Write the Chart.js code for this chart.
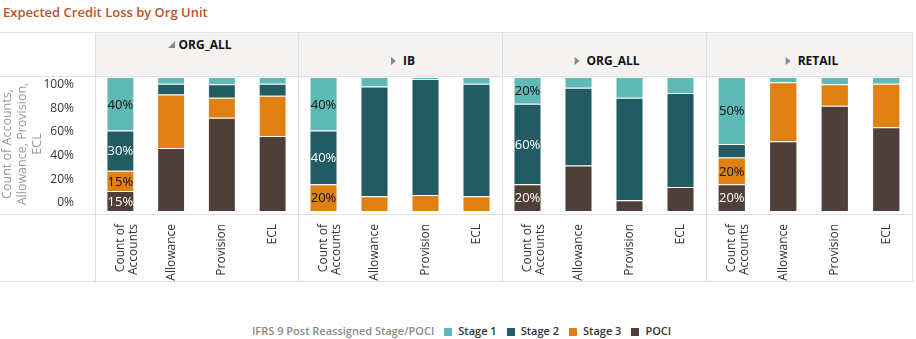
<!DOCTYPE html>
<html lang="en">
<head>
<meta charset="utf-8">
<script src="https://cdn.jsdelivr.net/npm/chart.js@4.4.1/dist/chart.umd.min.js"></script>
<style>
  html, body { margin: 0; padding: 0; background: #fff; }
  body { width: 916px; height: 339px; position: relative; overflow: hidden; font-family: "Open Sans", sans-serif; }
  .title { position: absolute; left: 3px; top: 3px; font-size: 13px; font-weight: 600; color: #b5552b; white-space: nowrap; }
  .hdr { position: absolute; top: 33px; height: 43px; left: 95px; width: 817px; background: #f4f3f2; }
  .hline { position: absolute; left: 0; width: 913px; height: 1px; background: #e0e0e0; }
  .vline { position: absolute; top: 32px; height: 250px; width: 1px; background: #e0e0e0; }
  .hdrtxt { position: absolute; font-size: 12px; font-weight: 700; color: #111; white-space: nowrap; transform: translate(-50%, -50%); line-height: 14px; }
  .tri-open { display: inline-block; width: 0; height: 0; border-left: 7px solid transparent; border-bottom: 7px solid #888; margin-right: 4px; vertical-align: 1px; }
  .tri-closed { display: inline-block; width: 0; height: 0; border-top: 4.5px solid transparent; border-bottom: 4.5px solid transparent; border-left: 5px solid #888; margin-right: 7px; vertical-align: 0px; }
  canvas { position: absolute; top: 77px; }
  .legend { position: absolute; left: 252px; top: 324px; font-size: 11px; font-weight: 600; line-height: 14px; white-space: nowrap; }
  .legend .lgtitle { color: #8a8a8a; margin-right: 10px; }
  .legend .item { color: #333; margin-right: 10px; }
  .legend .sw { display: inline-block; width: 8px; height: 8px; margin-right: 6px; vertical-align: -0.5px; }
</style>
</head>
<body>
<div class="title">Expected Credit Loss by Org Unit</div>
<div class="hdr"></div>
<div class="hline" style="top:32px"></div>
<div class="hline" style="top:76px"></div>
<div class="hline" style="top:214px"></div>
<div class="hline" style="top:281px"></div>
<div class="vline" style="left:95px"></div>
<div class="vline" style="left:298px"></div>
<div class="vline" style="left:502px"></div>
<div class="vline" style="left:706px"></div>
<div class="vline" style="left:912px"></div>

<canvas id="panel0" width="298" height="204" style="left:0px"></canvas>
<canvas id="panel1" width="204" height="204" style="left:298px"></canvas>
<canvas id="panel2" width="204" height="204" style="left:502px"></canvas>
<canvas id="panel3" width="206" height="204" style="left:706px"></canvas>

<div class="legend" id="legend"><span class="lgtitle">IFRS 9 Post Reassigned Stage/POCI</span></div>

<script>
// org units (one panel each) and the measures inside each panel
const orgUnits = ['ORG_ALL', 'IB', 'ORG_ALL', 'RETAIL'];
const orgExpanded = [true, false, false, false];
const measures = [['Count of', 'Accounts'], 'Allowance', 'Provision', 'ECL'];
const yTicks = [0, 20, 40, 60, 80, 100];

const stageNames = ['Stage 1', 'Stage 2', 'Stage 3', 'POCI'];
const stageColors = ['#5fb9b4', '#235b63', '#e07f12', '#4e4038'];
const labelColors = ['#111', '#fff', '#111', '#fff'];

// share (%) per org unit -> [Count of Accounts, Allowance, Provision, ECL]
const stage1 = [[40, 5, 5.5, 5], [40, 7, 1.5, 5], [20, 8, 15.5, 12], [50, 4, 5.5, 5]];
const stage2 = [[30, 8, 10, 9], [40, 82, 86.5, 84], [60, 58, 76.5, 70], [10, 0, 0, 0]];
const stage3 = [[15, 40, 15, 30], [20, 11, 12, 11], [0, 0, 0, 0], [20, 44, 16, 32.5]];
const poci   = [[15, 47, 69.5, 56], [0, 0, 0, 0], [20, 34, 8, 18], [20, 52, 78.5, 62.5]];
const stageValues = [stage1, stage2, stage3, poci];

Chart.defaults.font.family = '"Open Sans", sans-serif';

// percentage labels inside the Count of Accounts bars
const segmentLabels = {
  id: 'segmentLabels',
  afterDatasetsDraw(chart) {
    const ctx = chart.ctx;
    ctx.save();
    ctx.font = '13px "Open Sans", sans-serif';
    ctx.textAlign = 'center';
    ctx.textBaseline = 'middle';
    chart.data.datasets.forEach((ds, i) => {
      const bar = chart.getDatasetMeta(i).data[0];
      const v = ds.data[0];
      if (!bar || v < 15) return;
      const c = bar.getCenterPoint();
      ctx.fillStyle = ds.labelColor;
      ctx.fillText(Math.round(v) + '%', c.x, c.y + 1);
    });
    ctx.restore();
  }
};

function buildPanel(p) {
  // bottom to top: POCI, Stage 3, Stage 2, Stage 1
  const datasets = [3, 2, 1, 0].map(k => ({
    label: stageNames[k],
    data: stageValues[k][p],
    backgroundColor: stageColors[k],
    borderColor: 'rgba(255,255,255,0.45)',
    borderWidth: 1,
    labelColor: labelColors[k],
    categoryPercentage: 1,
    barPercentage: 0.55
  }));

  const scales = {
    x: {
      stacked: true,
      grid: { display: false },
      border: { display: false },
      ticks: {
        autoSkip: false, minRotation: 90, maxRotation: 90,
        padding: 5, color: '#333', font: { size: 12, lineHeight: 1.1 }
      },
      afterFit(s) { s.height = 70; s.paddingLeft = 0; s.paddingRight = 0; }
    },
    y: { stacked: true, min: 0, max: 100, display: false }
  };

  if (p === 0) {
    // value axis with the labels, shown in the left column
    scales.yl = {
      position: 'left',
      min: -7.03, max: 106.53,
      grid: { display: false },
      border: { display: false },
      afterBuildTicks(s) { s.ticks = yTicks.map(v => ({ value: v })); },
      ticks: { padding: 13, color: '#333', font: { size: 12 }, callback: v => v + '%' },
      title: {
        display: true,
        text: ['Count of Accounts,', 'Allowance, Provision,', 'ECL'],
        color: '#9a9a9a',
        font: { size: 12.5, lineHeight: 1.2 },
        padding: 0
      },
      afterFit(s) { s.width = 95; s.paddingTop = 0; s.paddingBottom = 0; }
    };
  }

  new Chart(document.getElementById('panel' + p), {
    type: 'bar',
    data: { labels: measures, datasets },
    options: {
      responsive: false,
      animation: false,
      layout: { padding: 0 },
      plugins: { legend: { display: false }, tooltip: { enabled: false } },
      scales
    },
    plugins: [segmentLabels]
  });
}

orgUnits.forEach((name, p) => {
  buildPanel(p);
  const left = p === 0 ? 95 : 298 + (p - 1) * 204;
  const width = p === 3 ? 206 : (p === 0 ? 203 : 204);
  const el = document.createElement('div');
  el.className = 'hdrtxt';
  el.style.left = (left + width / 2 + 3) + 'px';
  el.style.top = (orgExpanded[p] ? 45 : 61) + 'px';
  el.innerHTML = '<span class="' + (orgExpanded[p] ? 'tri-open' : 'tri-closed') + '"></span>' + name;
  document.body.appendChild(el);
});

const legend = document.getElementById('legend');
stageNames.forEach((n, k) => {
  const it = document.createElement('span');
  it.className = 'item';
  it.innerHTML = '<span class="sw" style="background:' + stageColors[k] + '"></span>' + n;
  legend.appendChild(it);
});
</script>
</body>
</html>
